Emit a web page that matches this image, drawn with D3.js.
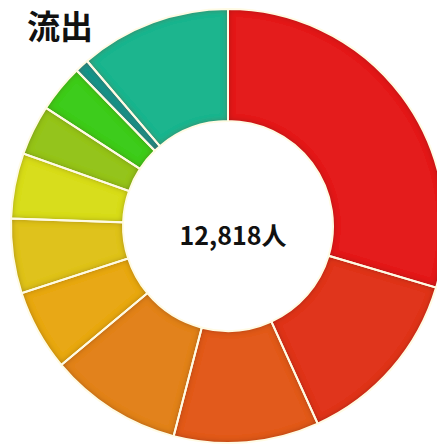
<!DOCTYPE html>
<html>
<head>
<meta charset="utf-8">
<script src="https://d3js.org/d3.v7.min.js"></script>
<style>
  body { margin: 0; background: #fff; }
  svg { display: block; }
  .title { font-family: "Noto Sans CJK JP", "Noto Sans", sans-serif; font-weight: 700; }
  .total { font-family: "Noto Sans CJK JP", "Noto Sans", sans-serif; font-weight: 700; }
</style>
</head>
<body>
<svg id="chart" width="437" height="445"></svg>
<script>
  // slices, clockwise from 12 o'clock
  const categories = ["区分1", "区分2", "区分3", "区分4", "区分5", "区分6", "区分7", "区分8", "区分9", "区分10", "その他"];
  const values = [3792, 1748, 1385, 1271, 776, 712, 623, 481, 456, 132, 1442];
  const colors = ["#e41f1f", "#e0361e", "#e25a1c", "#e2821e", "#e8a817", "#dfc21e",
                  "#d8dd1e", "#94c41e", "#3ccc1e", "#12948a", "#1fb58e"];
  const title = "流出";
  const totalLabel = d3.format(",")(d3.sum(values)) + "人";

  const svg = d3.select("#chart");
  const cx = 228, cy = 226;
  const outerR = 217, innerR = 105;

  // inner bevel shading on each slice
  const defs = svg.append("defs");
  const f = defs.append("filter").attr("id", "bevel")
    .attr("x", "-10%").attr("y", "-10%").attr("width", "120%").attr("height", "120%");
  f.append("feComponentTransfer").attr("in", "SourceAlpha").attr("result", "inv")
    .append("feFuncA").attr("type", "table").attr("tableValues", "1 0");
  f.append("feGaussianBlur").attr("in", "inv").attr("stdDeviation", 3).attr("result", "blur");
  f.append("feFlood").attr("flood-color", "#4a0000").attr("flood-opacity", 0.7).attr("result", "col");
  f.append("feComposite").attr("in", "col").attr("in2", "blur").attr("operator", "in").attr("result", "sh");
  f.append("feComposite").attr("in", "sh").attr("in2", "SourceAlpha").attr("operator", "in").attr("result", "inner");
  const m = f.append("feMerge");
  m.append("feMergeNode").attr("in", "SourceGraphic");
  m.append("feMergeNode").attr("in", "inner");

  const color = d3.scaleOrdinal().domain(categories).range(colors);

  const pie = d3.pie().sort(null).value(d => d.value);
  const arc = d3.arc().innerRadius(innerR).outerRadius(outerR);

  const data = categories.map((c, i) => ({ name: c, value: values[i] }));

  const g = svg.append("g").attr("transform", `translate(${cx},${cy})`);

  g.selectAll("path.slice").data(pie(data))
    .join("path")
    .attr("class", "slice")
    .attr("d", arc)
    .attr("fill", d => color(d.data.name))
    .attr("filter", "url(#bevel)");

  g.selectAll("path.sep").data(pie(data))
    .join("path")
    .attr("class", "sep")
    .attr("d", arc)
    .attr("fill", "none")
    .attr("stroke", "#fffbe4")
    .attr("stroke-width", 2);

  g.append("text")
    .attr("class", "total")
    .attr("x", 5)
    .attr("y", 19)
    .attr("text-anchor", "middle")
    .attr("font-size", 25)
    .attr("fill", "#111")
    .text(totalLabel);

  svg.append("text")
    .attr("class", "title")
    .attr("x", 27)
    .attr("y", 39)
    .attr("font-size", 33)
    .attr("fill", "#111")
    .text(title);
</script>
</body>
</html>
